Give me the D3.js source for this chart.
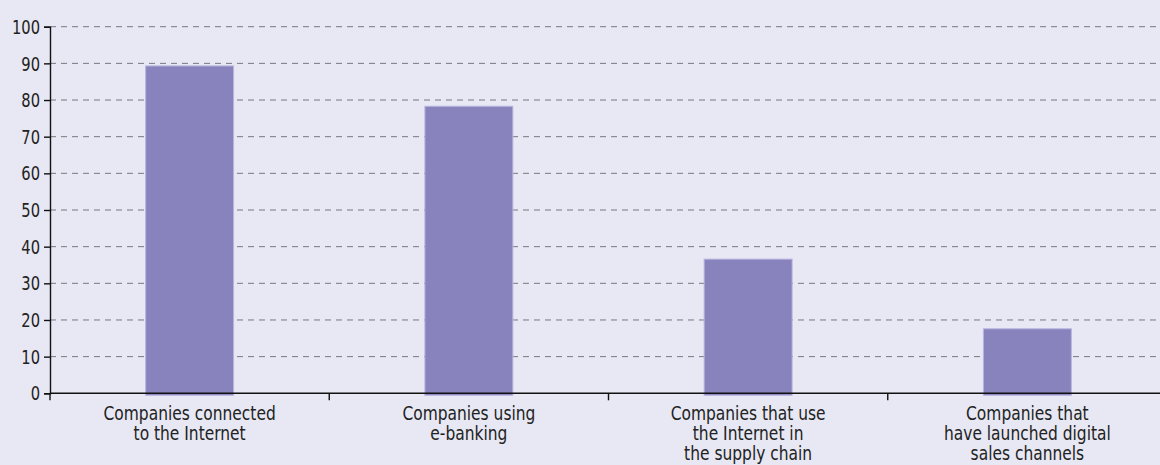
<!DOCTYPE html>
<html>
<head>
<meta charset="utf-8">
<script src="https://cdn.jsdelivr.net/npm/d3@7"></script>
<style>
  html, body { margin: 0; padding: 0; background: #e7e8f4; }
  svg { display: block; }
  text { font-family: "DejaVu Sans Condensed", "Liberation Sans Narrow", "Roboto", sans-serif; fill: #222; }
</style>
</head>
<body>
<svg id="chart" width="1160" height="465"></svg>
<script>
// Share of companies (%) by digital activity
const categories = [
  ["Companies connected", "to the Internet"],
  ["Companies using", "e-banking"],
  ["Companies that use", "the Internet in", "the supply chain"],
  ["Companies that", "have launched digital", "sales channels"]
];
const values = [89.3, 78.3, 36.6, 17.6];
const yTicks = [0, 10, 20, 30, 40, 50, 60, 70, 80, 90, 100];

const svg = d3.select("#chart");
const W = 1160, H = 465;
const margin = { left: 50, top: 26.7, bottom: 393.3 };
const squeeze = 0.86; // narrow the glyphs horizontally

svg.append("rect").attr("width", W).attr("height", H).attr("fill", "#e7e8f4");

const keys = categories.map((c, i) => i);
const x = d3.scaleBand().domain(keys).range([50, 1167]).paddingInner(0.685).paddingOuter(0.3425);
const xEdges = d3.scaleBand().domain(keys).range([50, 1167]).padding(0);
const y = d3.scaleLinear().domain([0, 100]).range([margin.bottom, margin.top]);

// dashed gridlines
svg.append("g")
  .selectAll("line")
  .data(yTicks.filter(t => t > 0))
  .join("line")
  .attr("x1", 50).attr("x2", W)
  .attr("y1", d => y(d)).attr("y2", d => y(d))
  .attr("stroke", "#77777f")
  .attr("stroke-width", 1)
  .attr("stroke-dasharray", "6,5");

// bars
svg.append("g")
  .selectAll("rect")
  .data(values)
  .join("rect")
  .attr("x", (d, i) => x(i))
  .attr("width", x.bandwidth())
  .attr("y", d => y(d))
  .attr("height", d => y(0) - y(d) + 2)
  .attr("fill", "#8882bd")
  .attr("stroke", "#b9b6e0")
  .attr("stroke-width", 1);

// y axis
const yAxis = svg.append("g")
  .attr("transform", "translate(50,0)")
  .call(d3.axisLeft(y).tickValues(yTicks).tickSize(6).tickPadding(4).tickFormat(d3.format("d")));
yAxis.select(".domain").attr("stroke", "#111").attr("stroke-width", 1.4);
yAxis.selectAll(".tick line").attr("stroke", "#111").attr("stroke-width", 1.4);
yAxis.selectAll(".tick text")
  .attr("font-size", 19)
  .attr("fill", "#222")
  .style("font-family", "'DejaVu Sans Condensed', sans-serif")
  .attr("transform", "translate(-10,0) scale(" + squeeze + ",1)")
  .attr("x", 0)
  .attr("dy", "0.35em");

// x axis: baseline with separators between categories
const xg = svg.append("g");
xg.append("line")
  .attr("x1", 50).attr("x2", W)
  .attr("y1", y(0)).attr("y2", y(0))
  .attr("stroke", "#111").attr("stroke-width", 1.4);
xg.selectAll("line.sep")
  .data(keys)
  .join("line")
  .attr("class", "sep")
  .attr("x1", d => xEdges(d)).attr("x2", d => xEdges(d))
  .attr("y1", y(0)).attr("y2", y(0) + 7)
  .attr("stroke", "#111").attr("stroke-width", 1.4);

// category labels
const lbl = svg.append("g")
  .selectAll("g")
  .data(categories)
  .join("g")
  .attr("transform", (d, i) => "translate(" + (x(i) + x.bandwidth() / 2) + "," + (y(0) + 27) + ") scale(" + squeeze + ",1)")
  .append("text")
  .attr("text-anchor", "middle")
  .attr("font-size", 20)
  .attr("x", 0)
  .attr("y", 0);
lbl.selectAll("tspan")
  .data(d => d)
  .join("tspan")
  .attr("x", 0)
  .attr("dy", (d, i) => i === 0 ? 0 : 20)
  .text(d => d);
</script>
</body>
</html>
